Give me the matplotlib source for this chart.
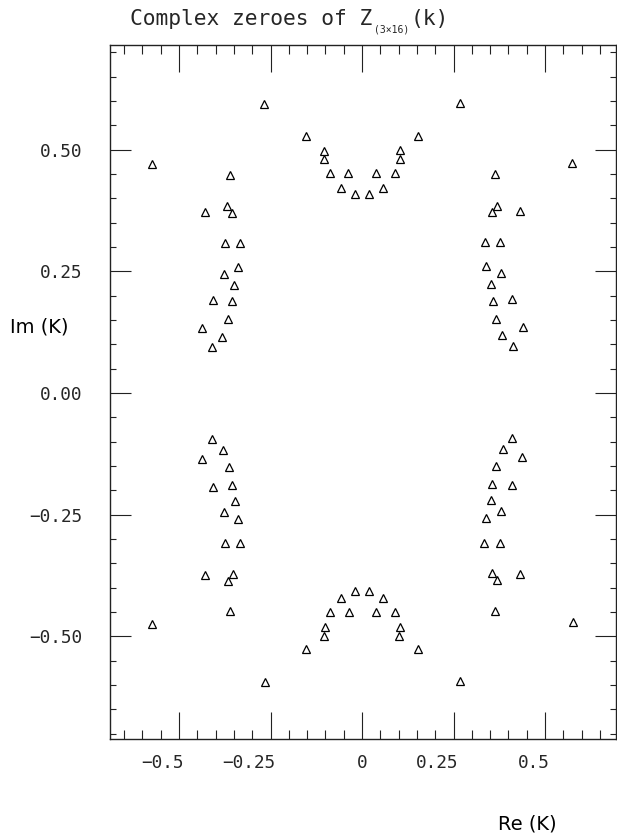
import matplotlib
matplotlib.use("Agg")
import matplotlib.pyplot as plt
from matplotlib.ticker import MultipleLocator, FixedLocator, FixedFormatter
from matplotlib.transforms import ScaledTranslation

# zeroes, grouped by cluster
re_top_mid = [-0.154, -0.103, -0.103, -0.088, -0.038, -0.058, -0.018, 0.019, 0.057, 0.038, 0.089, 0.103, 0.103, 0.154]
im_top_mid = [0.528, 0.498, 0.480, 0.451, 0.451, 0.421, 0.408, 0.408, 0.422, 0.451, 0.451, 0.481, 0.499, 0.528]

re_top_left = [-0.360, -0.429, -0.368, -0.354, -0.374, -0.333, -0.339, -0.378, -0.349, -0.408, -0.355, -0.366, -0.438, -0.383, -0.410]
im_top_left = [0.448, 0.371, 0.384, 0.370, 0.308, 0.308, 0.258, 0.244, 0.222, 0.191, 0.189, 0.152, 0.134, 0.116, 0.094]

re_top_right = [0.363, 0.368, 0.356, 0.432, 0.335, 0.376, 0.339, 0.380, 0.352, 0.357, 0.410, 0.366, 0.439, 0.383, 0.412]
im_top_right = [0.449, 0.384, 0.371, 0.374, 0.310, 0.310, 0.260, 0.246, 0.224, 0.190, 0.193, 0.153, 0.136, 0.119, 0.096]

re_top_outer = [-0.268, 0.268, -0.573, 0.575]
im_top_outer = [0.594, 0.595, 0.471, 0.473]

re_bot_left = [-0.409, -0.380, -0.436, -0.364, -0.408, -0.355, -0.348, -0.378, -0.338, -0.375, -0.334, -0.430, -0.353, -0.366, -0.360]
im_bot_left = [-0.095, -0.118, -0.135, -0.153, -0.193, -0.189, -0.222, -0.245, -0.259, -0.309, -0.309, -0.373, -0.372, -0.386, -0.449]

re_bot_right = [0.411, 0.384, 0.438, 0.366, 0.356, 0.410, 0.351, 0.379, 0.340, 0.334, 0.376, 0.355, 0.432, 0.368, 0.362]
im_bot_right = [-0.092, -0.116, -0.132, -0.151, -0.188, -0.190, -0.220, -0.243, -0.257, -0.308, -0.308, -0.370, -0.371, -0.384, -0.447]

re_bot_mid = [-0.154, -0.102, -0.103, -0.087, -0.037, -0.057, -0.019, 0.018, 0.057, 0.039, 0.089, 0.103, 0.102, 0.153]
im_bot_mid = [-0.527, -0.481, -0.499, -0.451, -0.451, -0.422, -0.407, -0.407, -0.422, -0.451, -0.451, -0.481, -0.499, -0.527]

re_bot_outer = [-0.574, -0.266, 0.577, 0.269]
im_bot_outer = [-0.474, -0.594, -0.471, -0.592]

x_ticks = [-0.5, -0.25, 0, 0.25, 0.5]
x_labels = ["\u22120.5", "\u22120.25", "0", "0.25", "0.5"]
y_ticks = [-0.5, -0.25, 0, 0.25, 0.5]
y_labels = ["\u22120.50", "\u22120.25", "0.00", "0.25", "0.50"]

mono = "DejaVu Sans Mono"
ink = "#262626"

fig = plt.figure(figsize=(6.17, 8.33), dpi=100)
ax = fig.add_axes([109.5 / 617, 94 / 833, 506 / 617, 694 / 833])

groups = [
    (re_top_mid, im_top_mid), (re_top_left, im_top_left), (re_top_right, im_top_right),
    (re_top_outer, im_top_outer), (re_bot_left, im_bot_left), (re_bot_right, im_bot_right),
    (re_bot_mid, im_bot_mid), (re_bot_outer, im_bot_outer),
]
for xs, ys in groups:
    ax.plot(xs, ys, linestyle="none", marker="^", ms=5.3, mfc="white",
            mec="black", mew=0.9)

ax.set_xlim(-0.69, 0.6925)
ax.set_ylim(-0.711, 0.715)

for side in ax.spines.values():
    side.set_linewidth(1.0)
    side.set_color("#222222")

ax.xaxis.set_major_locator(FixedLocator(x_ticks))
ax.xaxis.set_major_formatter(FixedFormatter(x_labels))
ax.xaxis.set_minor_locator(MultipleLocator(0.05))
ax.yaxis.set_major_locator(FixedLocator(y_ticks))
ax.yaxis.set_major_formatter(FixedFormatter(y_labels))
ax.yaxis.set_minor_locator(MultipleLocator(0.05))

ax.tick_params(axis="x", which="major", direction="in", length=19.5, width=0.8,
               top=True, bottom=True, pad=11, color="#222222")
ax.tick_params(axis="x", which="minor", direction="in", length=6.5, width=0.8,
               top=True, bottom=True, color="#222222")
ax.tick_params(axis="y", which="major", direction="in", length=15, width=0.8,
               left=True, right=True, pad=19.5, color="#222222")
ax.tick_params(axis="y", which="minor", direction="in", length=4.3, width=0.8,
               left=True, right=True, color="#222222")

shift = ScaledTranslation(0.05, 0, fig.dpi_scale_trans)
for lab in ax.get_xticklabels():
    lab.set_fontfamily(mono)
    lab.set_fontsize(12.8)
    lab.set_color(ink)
    lab.set_horizontalalignment("right")
    lab.set_transform(lab.get_transform() + shift)
for lab in ax.get_yticklabels():
    lab.set_fontfamily(mono)
    lab.set_fontsize(12.8)
    lab.set_color(ink)

# title, built from three pieces so the subscript can sit low and small
t1 = fig.text(130 / 617, (833 - 25) / 833, "Complex zeroes of Z", family=mono,
              fontsize=15.3, color=ink, va="baseline", ha="left")
t2 = fig.text(0, 0, "(3\u00d716)", family=mono, fontsize=7, color=ink,
              va="baseline", ha="left")
t3 = fig.text(0, 0, "(k)", family=mono, fontsize=15.3, color=ink,
              va="baseline", ha="left")
renderer = fig.canvas.get_renderer()
bb1 = t1.get_window_extent(renderer)
t2.set_position(((bb1.x1 + 2) / 617, (833 - 33) / 833))
bb2 = t2.get_window_extent(renderer)
t3.set_position(((bb2.x1 + 1) / 617, (833 - 25) / 833))

fig.text(10 / 617, (833 - 327) / 833, "Im (K)", fontsize=14, color="black",
         va="center", ha="left")
fig.text(498 / 617, (833 - 824) / 833, "Re (K)", fontsize=14, color="black",
         va="center", ha="left")

fig.savefig("out.png", dpi=100)
